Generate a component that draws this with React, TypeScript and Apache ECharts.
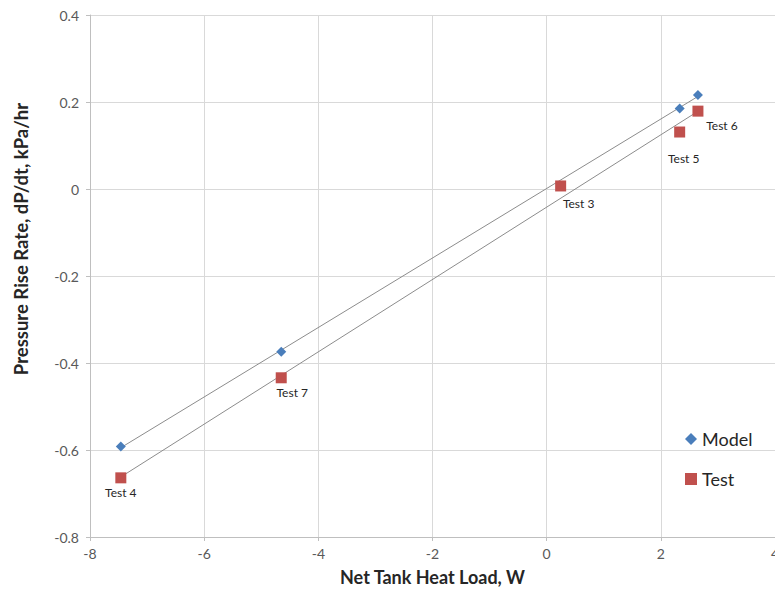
import React, { useEffect, useRef } from "react";
import * as echarts from "echarts";

const modelX = [-7.46, -4.65, 2.33, 2.65];
const modelY = [-0.592, -0.374, 0.185, 0.216];

const testX = [-7.46, -4.65, 0.245, 2.33, 2.65];
const testY = [-0.664, -0.434, 0.007, 0.131, 0.179];
const testNames = ["Test 4", "Test 7", "Test 3", "Test 5", "Test 6"];
const testLabelOffsets = [
  [0, 15],
  [11, 15],
  [18, 18],
  [4, 26],
  [24, 14],
];

const yTitle = "Pressure Rise Rate, dP/dt, kPa/hr";
const xTitle = "Net Tank Heat Load, W";

function fit(xs: number[], ys: number[]) {
  const n = xs.length;
  const mx = xs.reduce((a, b) => a + b, 0) / n;
  const my = ys.reduce((a, b) => a + b, 0) / n;
  let sxy = 0;
  let sxx = 0;
  for (let i = 0; i < n; i++) {
    sxy += (xs[i] - mx) * (ys[i] - my);
    sxx += (xs[i] - mx) * (xs[i] - mx);
  }
  const b = sxy / sxx;
  const a = my - b * mx;
  const x0 = Math.min(...xs);
  const x1 = Math.max(...xs);
  return [
    [x0, a + b * x0],
    [x1, a + b * x1],
  ];
}

const FONT = "Lato";

export default function App() {
  const ref = useRef<HTMLDivElement>(null);
  useEffect(() => {
    if (!ref.current) return;
    const chart = echarts.init(ref.current, undefined, { renderer: "svg" });
    const trendStyle = { color: "#8c8c8c", width: 1 };
    chart.setOption({
      animation: false,
      textStyle: { fontFamily: FONT },
      grid: {
        left: 90,
        right: 0,
        top: 15,
        bottom: 64,
        containLabel: false,
        outerBoundsMode: "none",
      },
      graphic: [
        {
          type: "text",
          x: 21,
          y: 239,
          rotation: Math.PI / 2,
          style: {
            text: yTitle,
            align: "center",
            verticalAlign: "middle",
            fontFamily: FONT,
            fontSize: 18.5,
            fontWeight: "bold",
            fill: "#262626",
          },
        },
      ],
      xAxis: {
        type: "value",
        min: -8,
        max: 4,
        interval: 2,
        name: xTitle,
        nameLocation: "middle",
        nameGap: 31,
        nameTextStyle: { fontFamily: FONT, fontSize: 18, fontWeight: "bold", color: "#262626" },
        axisLine: { show: true, onZero: false, lineStyle: { color: "#bfbfbf" } },
        axisTick: { show: true, length: 4, lineStyle: { color: "#bfbfbf" } },
        axisLabel: { fontFamily: FONT, fontSize: 14, color: "#595959", margin: 9 },
        splitLine: { show: true, lineStyle: { color: "#d9d9d9" } },
      },
      yAxis: {
        type: "value",
        min: -0.8,
        max: 0.4,
        interval: 0.2,
        axisLine: { show: true, onZero: false, lineStyle: { color: "#bfbfbf" } },
        axisTick: { show: true, length: 4, lineStyle: { color: "#bfbfbf" } },
        axisLabel: {
          fontFamily: FONT,
          fontSize: 14,
          color: "#595959",
          margin: 11,
          formatter: (v: number) => (Math.abs(v) < 1e-9 ? "0" : String(Math.round(v * 10) / 10)),
        },
        splitLine: { show: true, lineStyle: { color: "#d9d9d9" } },
      },
      legend: {
        orient: "vertical",
        left: 680,
        top: 425,
        itemGap: 22,
        itemWidth: 12,
        itemHeight: 12,
        textStyle: { fontFamily: FONT, fontSize: 18, color: "#262626" },
        data: [
          { name: "Model", icon: "diamond", itemStyle: { color: "#4a7ebb", opacity: 1 } },
          { name: "Test", icon: "rect", itemStyle: { color: "#c0504d", opacity: 1 } },
        ],
      },
      series: [
        {
          type: "line",
          name: "Model fit",
          data: fit(modelX, modelY),
          showSymbol: false,
          symbol: "none",
          lineStyle: trendStyle,
          silent: true,
          z: 1,
        },
        {
          type: "line",
          name: "Test fit",
          data: fit(testX, testY),
          showSymbol: false,
          symbol: "none",
          lineStyle: trendStyle,
          silent: true,
          z: 1,
        },
        {
          type: "scatter",
          name: "Model",
          symbol: "diamond",
          symbolSize: 10,
          itemStyle: { color: "#4a7ebb", opacity: 1 },
          data: modelX.map((x, i) => [x, modelY[i]]),
          z: 3,
        },
        {
          type: "scatter",
          name: "Test",
          symbol: "rect",
          symbolSize: 11,
          itemStyle: { color: "#c0504d", opacity: 1 },
          data: testX.map((x, i) => ({
            value: [x, testY[i]],
            label: {
              show: true,
              position: "inside",
              offset: testLabelOffsets[i],
              formatter: testNames[i],
              fontFamily: FONT,
              fontSize: 12,
              color: "#262626",
            },
          })),
          z: 3,
        },
      ],
    });
    return () => chart.dispose();
  }, []);
  return (
    <div
      ref={ref}
      style={{ position: "fixed", left: 0, top: 0, width: 775, height: 601, background: "#ffffff" }}
    />
  );
}
